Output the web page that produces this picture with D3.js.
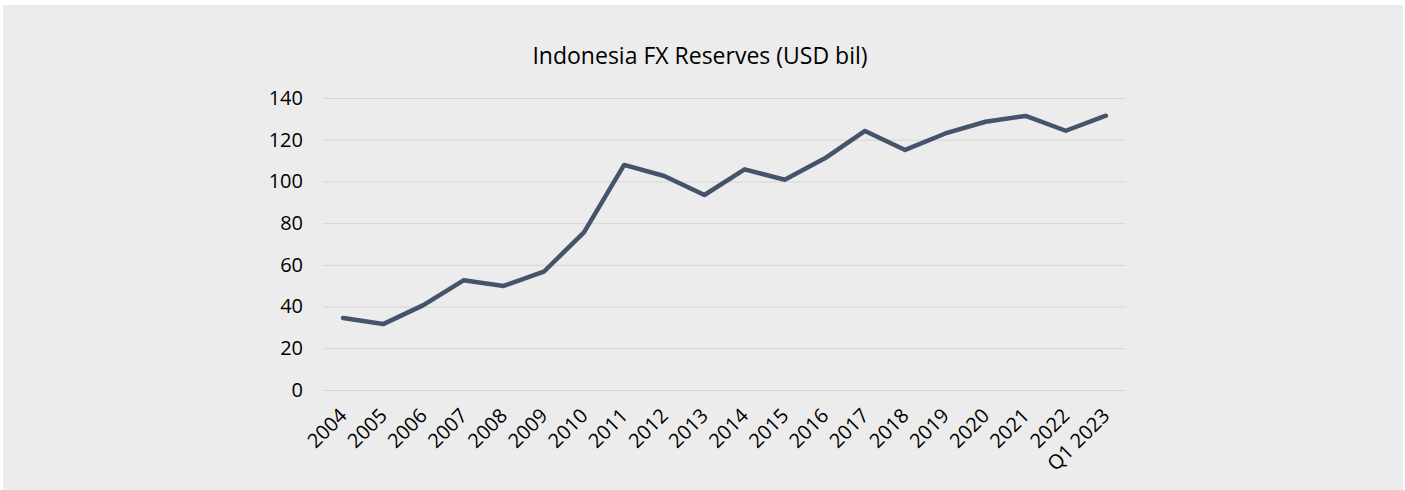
<!DOCTYPE html>
<html>
<head>
<meta charset="utf-8">
<script src="https://cdn.jsdelivr.net/npm/d3@7"></script>
<style>
  html, body { margin: 0; padding: 0; background: #ffffff; }
  svg { display: block; }
  text { font-family: "Open Sans", "Noto Sans", sans-serif; fill: #000; }
</style>
</head>
<body>
<svg id="chart" width="1405" height="490"></svg>
<script>
// Indonesia FX reserves, USD billions
const years = ["2004","2005","2006","2007","2008","2009","2010","2011","2012","2013",
               "2014","2015","2016","2017","2018","2019","2020","2021","2022","Q1 2023"];
const reserves = [34.5, 31.6, 40.7, 52.6, 49.9, 56.7, 75.6, 107.9, 102.6, 93.5,
                  105.8, 100.8, 111.1, 124.2, 115.1, 123.0, 128.6, 131.4, 124.3, 131.5];
const yTicks = [0, 20, 40, 60, 80, 100, 120, 140];
const title = "Indonesia FX Reserves (USD bil)";

const svg = d3.select("#chart");
const W = 1405, H = 490;

// panel background
svg.append("rect")
  .attr("x", 3).attr("y", 5).attr("width", W - 5).attr("height", H - 5)
  .attr("fill", "#ececec");

const margin = { left: 323, right: 1405 - 1126, top: 98, bottom: 490 - 390 };

const x = d3.scaleBand().domain(years).range([margin.left, W - margin.right]);
const y = d3.scaleLinear().domain([0, 140]).range([H - margin.bottom, margin.top]);

// title
svg.append("text")
  .attr("x", 700).attr("y", 64)
  .attr("text-anchor", "middle")
  .style("font-size", "23px")
  .style("font-weight", 500)
  .text(title);

// horizontal gridlines + y labels
const yAxis = d3.axisLeft(y).tickValues(yTicks)
  .tickSize(-(W - margin.left - margin.right)).tickPadding(20);
const gy = svg.append("g").attr("transform", `translate(${margin.left},0)`).call(yAxis);
gy.select(".domain").remove();
gy.selectAll(".tick line").attr("stroke", "#d6d6d6").attr("stroke-width", 1);
gy.selectAll(".tick text").style("font-size", "20px").style("font-weight", 500).attr("fill", "#000");

// x axis labels, rotated
const xAxis = d3.axisBottom(x).tickSize(0).tickPadding(0);
const gx = svg.append("g").attr("transform", `translate(0,${H - margin.bottom})`).call(xAxis);
gx.select(".domain").remove();
gx.selectAll(".tick text")
  .style("font-size", "20px").style("font-weight", 500).attr("fill", "#000")
  .attr("text-anchor", "end")
  .attr("dy", null).attr("y", 0)
  .attr("transform", "translate(5,27) rotate(-45)");

// reserves line
const line = d3.line()
  .x((d, i) => x(years[i]) + x.bandwidth() / 2)
  .y(d => y(d));

svg.append("path")
  .datum(reserves)
  .attr("fill", "none")
  .attr("stroke", "#44546a")
  .attr("stroke-width", 4.5)
  .attr("stroke-linejoin", "round")
  .attr("stroke-linecap", "round")
  .attr("d", line);
</script>
</body>
</html>
